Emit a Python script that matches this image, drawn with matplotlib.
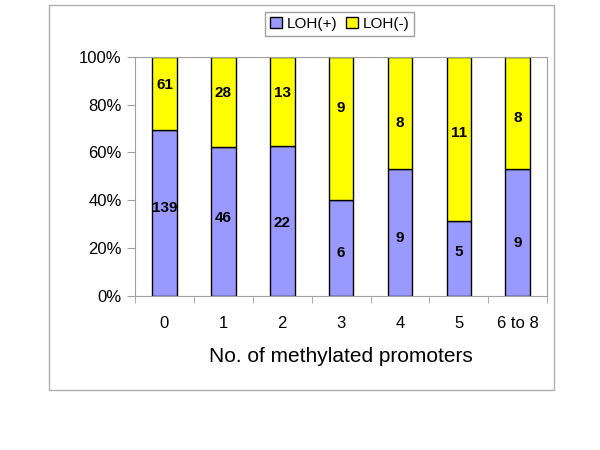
import numpy as np
import matplotlib.pyplot as plt
from matplotlib.patches import Rectangle

plt.rcParams['font.family'] = ['Liberation Sans', 'DejaVu Sans']

categories = ['0', '1', '2', '3', '4', '5', '6 to 8']
loh_pos = [139, 46, 22, 6, 9, 5, 9]
loh_neg = [61, 28, 13, 9, 8, 11, 8]

# small vertical nudges of the value labels (axes fraction), as in the original
nudge_pos = [0.02, 0.017, -0.009, -0.018, -0.02, 0.026, -0.041]
nudge_neg = [0.035, 0.036, 0.033, 0.085, -0.041, 0.026, -0.022]

pos = np.array(loh_pos, dtype=float)
neg = np.array(loh_neg, dtype=float)
total = pos + neg
pos_frac = pos / total
neg_frac = neg / total

fig = plt.figure(figsize=(6, 4.5), dpi=100)
# outer chart frame
fig.patches.append(Rectangle((0.082, 0.133), 0.841, 0.857, transform=fig.transFigure,
                             fill=False, edgecolor='#b0b0b0', linewidth=1))

ax = fig.add_axes([0.225, 0.342, 0.687, 0.532])
x = np.arange(len(categories))
w = 0.42
b1 = ax.bar(x, pos_frac, w, color='#9999ff', edgecolor='black', linewidth=1, label='LOH(+)')
b2 = ax.bar(x, neg_frac, w, bottom=pos_frac, color='#ffff00', edgecolor='black', linewidth=1, label='LOH(-)')

for i in range(len(categories)):
    ax.text(x[i], pos_frac[i] / 2 + nudge_pos[i], str(loh_pos[i]), ha='center', va='center',
            fontsize=11, fontweight='bold')
    ax.text(x[i], pos_frac[i] + neg_frac[i] / 2 + nudge_neg[i], str(loh_neg[i]),
            ha='center', va='center', fontsize=11, fontweight='bold')

ax.set_xlim(-0.5, len(categories) - 0.5)
ax.set_ylim(0, 1)
ax.set_yticks(np.arange(0, 1.01, 0.2))
ax.set_yticklabels(['%d%%' % round(v * 100) for v in np.arange(0, 1.01, 0.2)], fontsize=12)
ax.set_xticks(x)
ax.set_xticklabels(categories, fontsize=12)
ax.set_xticks(np.arange(-0.5, len(categories)), minor=True)
ax.tick_params(axis='x', which='major', length=0, pad=14)
ax.tick_params(axis='x', which='minor', length=5, color='#a0a0a0')
ax.tick_params(axis='y', length=6, color='#a0a0a0')
for s in ax.spines.values():
    s.set_color('#a0a0a0')
ax.set_xlabel('No. of methylated promoters', fontsize=15, labelpad=12)

fig.legend(handles=[b1, b2], loc='center', bbox_to_anchor=(0.566, 0.947), ncol=2,
           fancybox=False, edgecolor='#a0a0a0', fontsize=11, handlelength=0.8,
           handleheight=0.8, handletextpad=0.3, columnspacing=0.6, borderpad=0.3,
           framealpha=1)

fig.savefig('out.png', dpi=100)
